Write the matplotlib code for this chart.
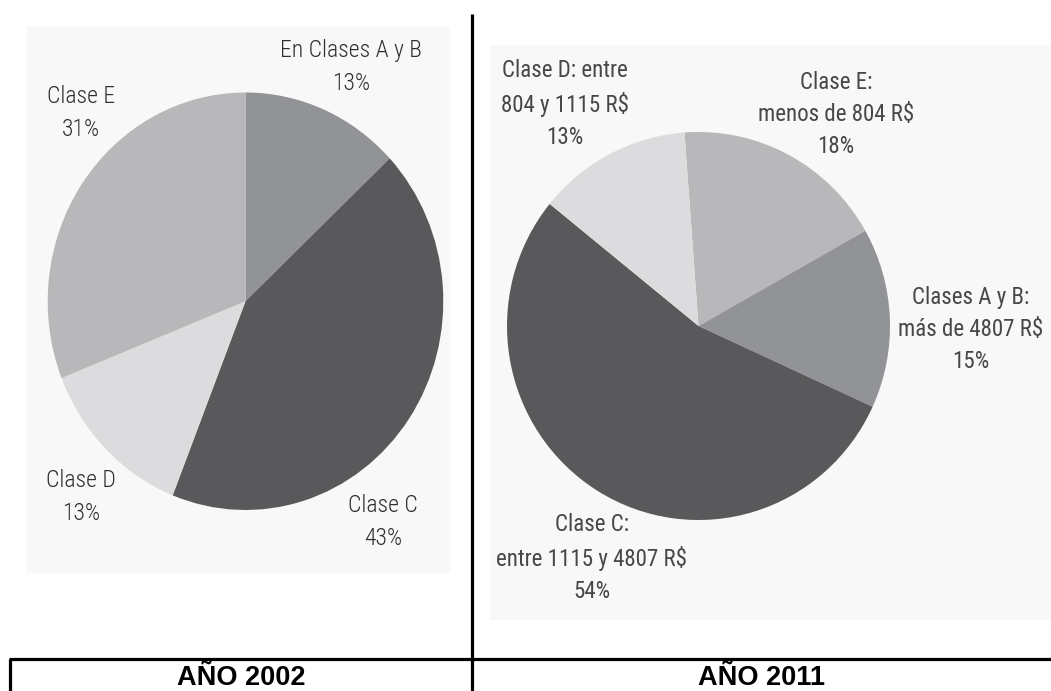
import os
import matplotlib.pyplot as plt
import matplotlib.font_manager as fm
from matplotlib.patches import Rectangle

# data
labels_2002 = ["En Clases A y B", "Clase C", "Clase D", "Clase E"]
values_2002 = [13, 43, 13, 31]
labels_2011 = ["Clase E:\nmenos de 804 R$", "Clases A y B:\nmás de 4807 R$",
               "Clase C:\nentre 1115 y 4807 R$", "Clase D: entre\n804 y 1115 R$"]
values_2011 = [18, 15, 54, 13]
titles = ["AÑO 2002", "AÑO 2011"]

col_ab = "#929397"
col_c = "#59595b"
col_d = "#dcdcde"
col_e = "#b8b8ba"
colors_2002 = [col_ab, col_c, col_d, col_e]
colors_2011 = [col_e, col_ab, col_c, col_d]


# look for a condensed face for the labels
def condensed_font(wanted):
    files = {os.path.splitext(os.path.basename(f.fname))[0].lower(): f.fname
             for f in fm.fontManager.ttflist}
    for w in wanted:
        if w in files:
            return files[w]
    for f in fm.fontManager.ttflist:
        n = os.path.basename(f.fname).lower()
        if ("condensed" in n or "narrow" in n) and "bold" not in n and "italic" not in n:
            return f.fname
    return None


def label_font(wanted, size):
    f = condensed_font(wanted)
    if f:
        return dict(fontproperties=fm.FontProperties(fname=f, size=size))
    return dict(family="DejaVu Sans", fontsize=13)


font_left = label_font(["robotocondensed-light", "robotocondensed-regular",
                        "liberationsansnarrow-regular"], 17)
font_right = label_font(["robotocondensed-regular", "robotocondensed-light",
                         "liberationsansnarrow-regular"], 16.5)

W, H = 1051, 691
fig = plt.figure(figsize=(W / 100, H / 100), dpi=100)

# background axes in pixel coordinates
bg = fig.add_axes([0, 0, 1, 1])
bg.set_xlim(0, W)
bg.set_ylim(H, 0)
bg.axis("off")

bg.add_patch(Rectangle((27, 26), 423, 547, color="#f8f8f8", lw=0, zorder=0))
bg.add_patch(Rectangle((490, 45), 561, 575, color="#f8f8f8", lw=0, zorder=0))

bg.plot([472, 472], [14, H], color="black", lw=2.3, solid_capstyle="butt")
bg.plot([9, W], [659, 659], color="black", lw=2.3, solid_capstyle="butt")
bg.plot([10, 10], [659, H], color="black", lw=2.3, solid_capstyle="butt")


def pie_axes(x0, y0, x1, y1):
    ax = fig.add_axes([x0 / W, (H - y1) / H, (x1 - x0) / W, (y1 - y0) / H])
    return ax


ax1 = pie_axes(47.7, 92.5, 443.3, 510)
ax1.pie(values_2002, colors=colors_2002, startangle=90, counterclock=False,
        radius=1, wedgeprops=dict(linewidth=0))
ax1.set_aspect("auto")
ax1.set_xlim(-1, 1)
ax1.set_ylim(-1, 1)
ax1.axis("off")

ax2 = pie_axes(507, 132, 890, 520)
ax2.pie(values_2011, colors=colors_2011, startangle=94.2, counterclock=False,
        radius=1, wedgeprops=dict(linewidth=0))
ax2.set_aspect("auto")
ax2.set_xlim(-1, 1)
ax2.set_ylim(-1, 1)
ax2.axis("off")

# labels 2002
pos_2002 = [(351, 67), (383, 522), (81, 497), (81, 113)]
for lab, val, (x, y) in zip(labels_2002, values_2002, pos_2002):
    bg.text(x, y, f"{lab}\n{val}%", ha="center", va="center",
            color="#2e2e2e", linespacing=1.6, **font_left)

# labels 2011
pos_2011 = [(836, 114), (971, 329), (592, 558), (565, 103.5)]
for lab, val, (x, y) in zip(labels_2011, values_2011, pos_2011):
    bg.text(x, y, f"{lab}\n{val}%", ha="center", va="center",
            color="#474747", linespacing=1.5, **font_right)

bg.text(241, 678, titles[0], ha="center", va="center", fontsize=19.5,
        fontweight="bold", family="Liberation Sans", color="black")
bg.text(761, 678, titles[1], ha="center", va="center", fontsize=19.5,
        fontweight="bold", family="Liberation Sans", color="black")

fig.savefig("out.png", dpi=100, facecolor="white")
